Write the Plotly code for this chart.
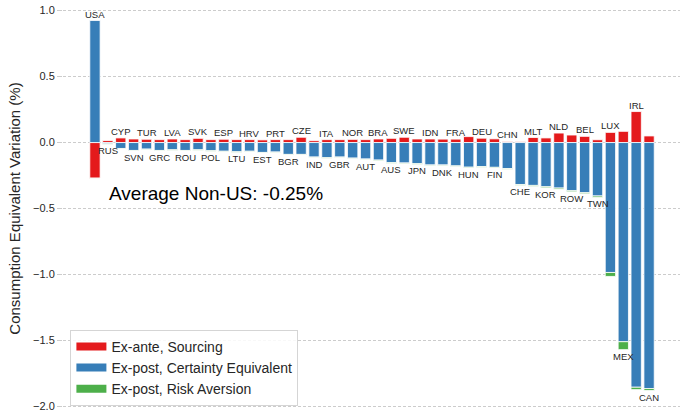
import plotly.graph_objects as go

countries = ["USA", "RUS", "CYP", "SVN", "TUR", "GRC", "LVA", "ROU", "SVK", "POL",
             "ESP", "LTU", "HRV", "EST", "PRT", "BGR", "CZE", "IND", "ITA", "GBR",
             "NOR", "AUT", "BRA", "AUS", "SWE", "JPN", "IDN", "DNK", "FRA", "HUN",
             "DEU", "FIN", "CHN", "CHE", "MLT", "KOR", "NLD", "ROW", "BEL", "TWN",
             "LUX", "MEX", "IRL", "CAN"]

ex_ante_sourcing = [-0.27, 0.015, 0.035, 0.027, 0.025, 0.022, 0.027, 0.022, 0.032, 0.022,
                    0.025, 0.022, 0.022, 0.020, 0.022, 0.022, 0.040, 0.014, 0.022, 0.022,
                    0.024, 0.022, 0.027, 0.032, 0.040, 0.027, 0.027, 0.026, 0.026, 0.045,
                    0.033, 0.028, 0.008, 0.006, 0.038, 0.035, 0.072, 0.057, 0.047, 0.021,
                    0.077, 0.085, 0.235, 0.050]

ex_post_certainty = [0.925, -0.010, -0.045, -0.060, -0.050, -0.060, -0.055, -0.060, -0.055, -0.062,
                     -0.066, -0.070, -0.066, -0.075, -0.072, -0.090, -0.090, -0.110, -0.115, -0.110,
                     -0.118, -0.125, -0.133, -0.152, -0.155, -0.160, -0.170, -0.170, -0.177, -0.187,
                     -0.182, -0.188, -0.197, -0.318, -0.325, -0.335, -0.345, -0.365, -0.380, -0.405,
                     -0.985, -1.510, -1.855, -1.865]

ex_post_risk_aversion = [-0.002, -0.003, -0.004, -0.004, -0.004, -0.004, -0.004, -0.004, -0.004, -0.004,
                         -0.004, -0.004, -0.004, -0.004, -0.004, -0.004, -0.004, -0.004, -0.004, -0.004,
                         -0.004, -0.004, -0.005, -0.005, -0.005, -0.005, -0.005, -0.005, -0.005, -0.005,
                         -0.005, -0.005, -0.005, -0.006, -0.007, -0.008, -0.008, -0.008, -0.008, -0.010,
                         -0.030, -0.060, -0.018, -0.015]

series_names = ["Ex-ante, Sourcing", "Ex-post, Certainty Equivalent", "Ex-post, Risk Aversion"]
series_colors = ["#e41a1c", "#377eb8", "#4daf4a"]
y_ticks = [1.0, 0.5, 0.0, -0.5, -1.0, -1.5, -2.0]
average_text = "Average Non-US: -0.25%"

FONT = "Liberation Sans, Arial, Helvetica, sans-serif"

fig = go.Figure()
for name, vals, col in zip(series_names,
                           [ex_ante_sourcing, ex_post_certainty, ex_post_risk_aversion],
                           series_colors):
    fig.add_trace(go.Bar(x=countries, y=vals, name=name, marker_color=col,
                         marker_line_color="white", marker_line_width=0.8,
                         width=0.8, showlegend=False))
# legend swatches (wide rectangles)
for name, col in zip(series_names, series_colors):
    fig.add_trace(go.Scatter(x=[None], y=[None], mode="lines", name=name,
                             line=dict(color=col, width=8)))

# country labels alternating above / below the stacks
for i, c in enumerate(countries):
    vals = [ex_ante_sourcing[i], ex_post_certainty[i], ex_post_risk_aversion[i]]
    pos = sum(v for v in vals if v > 0)
    neg = sum(v for v in vals if v < 0)
    if i % 2 == 0:
        fig.add_annotation(x=c, y=pos, text=c, showarrow=False, yanchor="bottom",
                           xanchor="center", yshift=-1,
                           font=dict(size=9.5, color="#262626", family=FONT))
    else:
        fig.add_annotation(x=c, y=neg, text=c, showarrow=False, yanchor="top",
                           xanchor="center", yshift=1,
                           font=dict(size=9.5, color="#262626", family=FONT))

fig.add_annotation(xref="paper", yref="y", x=0.072, y=-0.383, text=average_text,
                   showarrow=False, xanchor="left", yanchor="middle",
                   font=dict(size=19, color="#000000", family=FONT))

fig.update_layout(
    width=680, height=411,
    margin=dict(l=63, r=0, t=8, b=2),
    barmode="relative",
    bargap=0.2,
    plot_bgcolor="white", paper_bgcolor="white",
    font=dict(family=FONT, color="#262626"),
    xaxis=dict(range=[-2.48, 45.4], showticklabels=False, showgrid=False,
               zeroline=False, showline=False, ticks="", automargin=False),
    yaxis=dict(range=[-2.02, 1.02], tickvals=y_ticks, tickformat=".1f",
               automargin=False, ticklabeloverflow="allow",
               showgrid=True, gridcolor="#cccccc", griddash="3px,2px", gridwidth=1,
               zeroline=False, showline=False, ticks="outside", ticklen=5,
               tickcolor="#cccccc", tickfont=dict(size=11, color="#262626"),
               title=dict(text="Consumption Equivalent Variation (%)",
                          font=dict(size=15, color="#262626"), standoff=8)),
    legend=dict(x=0.012, y=0.008, xanchor="left", yanchor="bottom",
                bgcolor="rgba(255,255,255,0.85)", bordercolor="#d5d5d5", borderwidth=1,
                font=dict(size=14, color="#262626"), itemwidth=30,
                tracegroupgap=0),
)

fig.write_html("out.html", config={"displayModeBar": False},
               post_script="document.body.style.margin='0px';")
